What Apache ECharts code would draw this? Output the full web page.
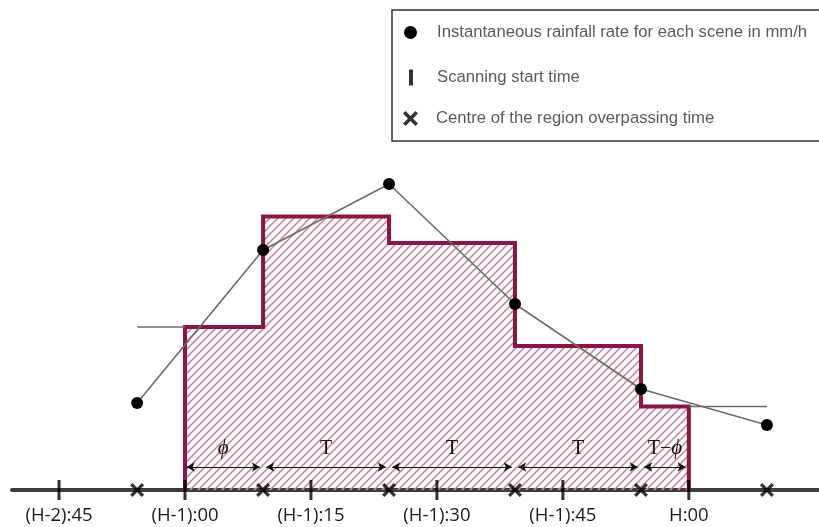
<!DOCTYPE html>
<html>
<head>
<meta charset="utf-8">
<script src="https://cdn.jsdelivr.net/npm/echarts@6/dist/echarts.min.js"></script>
<style>html,body{margin:0;padding:0;background:#fff}#c{width:819px;height:527px}</style>
</head>
<body>
<div id="c"></div>
<script>
// ---- data (minutes relative to (H-1):00, rate in arbitrary mm/h units) ----
var scanTimes = [-15, 0, 15, 30, 45, 60];
var tickLabels = ['(H-2):45', '(H-1):00', '(H-1):15', '(H-1):30', '(H-1):45', 'H:00'];
var overpassTimes = [-5.7, 9.3, 24.3, 39.3, 54.3, 69.3];
var rainRates = [8.7, 24.0, 30.6, 18.6, 10.1, 6.5];
var stepStarts = [0, 9.3, 24.3, 39.3, 54.3];
var stepValues = [16.3, 27.35, 24.7, 14.4, 8.35];
var stepEnd = 60;
var intervalStarts = [0, 9.3, 24.3, 39.3, 54.3];
var intervalEnds = [9.3, 24.3, 39.3, 54.3, 60];
var intervalLabels = ['{i|\u03D5}', 'T', 'T', 'T', 'T\u2212{i|\u03D5}'];
var arrowLevel = 2.3;

var NAME_RATE = 'Instantaneous rainfall rate for each scene in mm/h';
var NAME_SCAN = 'Scanning start time';
var NAME_OVER = 'Centre of the region overpassing time';

// hatch pattern
var P = 8;
var pc = document.createElement('canvas');
pc.width = P; pc.height = P;
var g = pc.getContext('2d');
g.strokeStyle = '#cc8ba0';
g.lineWidth = 1.6;
g.beginPath();
g.moveTo(0, P); g.lineTo(P, 0);
g.moveTo(-1, 1); g.lineTo(1, -1);
g.moveTo(P - 1, P + 1); g.lineTo(P + 1, P - 1);
g.stroke();

var stepData = [[stepStarts[0], 0]];
for (var i = 0; i < stepStarts.length; i++) stepData.push([stepStarts[i], stepValues[i]]);
stepData.push([stepEnd, stepValues[stepValues.length - 1]]);
stepData.push([stepEnd, 0]);

var rateData = overpassTimes.map(function (t, i) { return [t, rainRates[i]]; });
var extLeft = [[overpassTimes[0], stepValues[0]], [stepStarts[0], stepValues[0]]];
var extRight = [[stepEnd, stepValues[stepValues.length - 1]], [overpassTimes[overpassTimes.length - 1], stepValues[stepValues.length - 1]]];

var gap = 0.38;
var arrows = intervalStarts.map(function (s, i) {
  return [
    { coord: [s + (i === 0 ? 0.2 : gap), arrowLevel], name: intervalLabels[i] },
    { coord: [intervalEnds[i] - gap, arrowLevel] }
  ];
});

var XPATH = 'path://M2,0 L6,4 L10,0 L12,2 L8,6 L12,10 L10,12 L6,8 L2,12 L0,10 L4,6 L0,2 Z';

var chart = echarts.init(document.getElementById('c'));
chart.setOption({
  animation: false,
  backgroundColor: '#fff',
  grid: { left: 12, right: 0, top: 0, bottom: 37, containLabel: false },
  xAxis: {
    type: 'value', min: -20.6, max: 75.5,
    axisLine: { show: true, onZero: false, lineStyle: { color: '#3d3d3d', width: 4 } },
    axisTick: { show: false },
    splitLine: { show: false },
    axisLabel: {
      customValues: scanTimes,
      margin: 16,
      fontFamily: 'Open Sans', fontSize: 18.5, color: '#1a1a1a',
      formatter: function (v) { var k = scanTimes.indexOf(v); return k >= 0 ? tickLabels[k] : ''; }
    }
  },
  yAxis: { type: 'value', min: 0, max: 49, show: false },
  legend: [
    { data: [{ name: NAME_RATE, icon: 'circle' }], left: 404, top: 24, itemWidth: 13, itemHeight: 13, padding: 0,
      textStyle: { fontFamily: 'Liberation Sans', fontSize: 16.7, color: '#5a5a5a', padding: [0, 0, 0, 15] } },
    { data: [{ name: NAME_SCAN, icon: 'rect' }], left: 409, top: 69, itemWidth: 4, itemHeight: 16, padding: 0,
      textStyle: { fontFamily: 'Liberation Sans', fontSize: 16.7, color: '#5a5a5a', padding: [0, 0, 0, 19] } },
    { data: [{ name: NAME_OVER, icon: XPATH }], left: 403, top: 110, itemWidth: 15, itemHeight: 15, padding: 0,
      textStyle: { fontFamily: 'Liberation Sans', fontSize: 16.7, color: '#5a5a5a', padding: [0, 0, 0, 13] } }
  ],
  graphic: [{
    type: 'rect', shape: { x: 392, y: 10, width: 440, height: 131 },
    style: { fill: 'none', stroke: '#333', lineWidth: 1.5 }, z: 100
  }],
  series: [
    {
      name: 'steps', type: 'line', data: stepData, step: 'end', showSymbol: false, z: 2,
      lineStyle: { color: '#8c1446', width: 4, join: 'miter' },
      areaStyle: { color: { image: pc, repeat: 'repeat' }, opacity: 1 },
      silent: true,
      markLine: {
        silent: true, symbol: ['arrow', 'arrow'], symbolSize: [7, 8],
        lineStyle: { color: '#111', width: 1.2, type: 'solid' },
        label: { show: true, position: 'middle', formatter: '{b}', distance: 8,
          fontFamily: 'Liberation Serif', fontSize: 20, color: '#111',
          rich: { i: { fontFamily: 'Liberation Serif', fontStyle: 'italic', fontSize: 21, color: '#111' } } },
        data: arrows
      }
    },
    { name: 'extL', type: 'line', data: extLeft, showSymbol: false, z: 3, silent: true,
      lineStyle: { color: '#6b6b6b', width: 1.5 } },
    { name: 'extR', type: 'line', data: extRight, showSymbol: false, z: 3, silent: true,
      lineStyle: { color: '#6b6b6b', width: 1.5 } },
    {
      name: NAME_RATE, type: 'line', data: rateData, z: 4,
      symbol: 'circle', symbolSize: 12, showSymbol: true,
      itemStyle: { color: '#000' },
      lineStyle: { color: '#6b6b6b', width: 1.6 }
    },
    {
      name: NAME_SCAN, type: 'scatter', z: 5,
      data: scanTimes.map(function (t) { return [t, 0]; }),
      symbol: 'rect', symbolSize: [3, 20], itemStyle: { color: '#000' }
    },
    {
      name: NAME_OVER, type: 'scatter', z: 5,
      data: overpassTimes.map(function (t) { return [t, 0]; }),
      symbol: XPATH, symbolSize: 14, itemStyle: { color: '#000' }
    }
  ]
});
</script>
</body>
</html>
